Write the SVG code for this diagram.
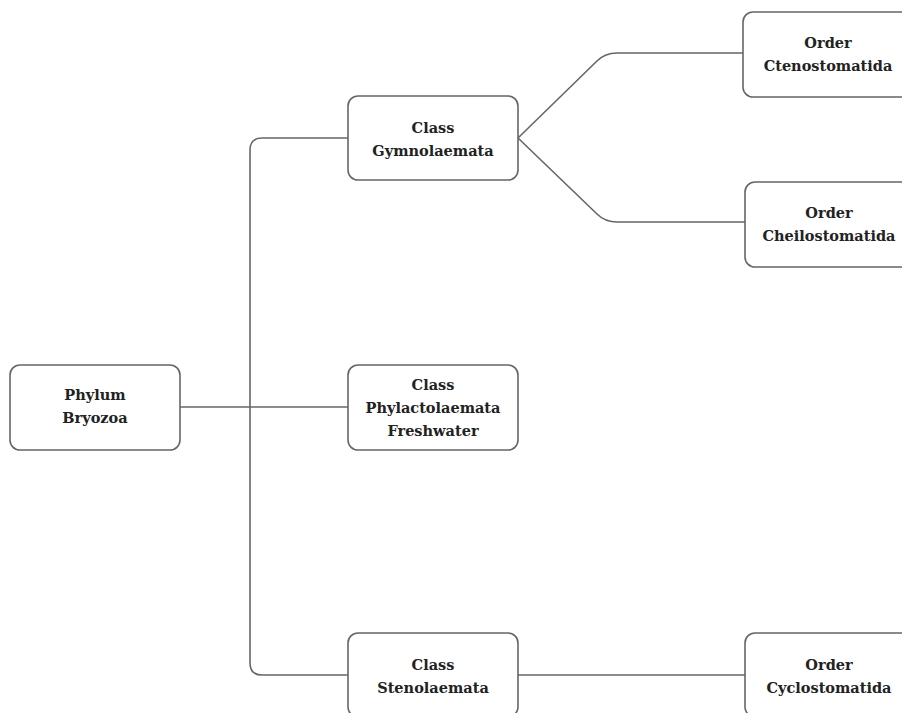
<svg xmlns="http://www.w3.org/2000/svg" width="902" height="713" viewBox="0 0 902 713">
<style>
.box{fill:#fff;stroke:#666;stroke-width:1.6}
.t{font-family:"DejaVu Serif","Liberation Serif",serif;font-weight:bold;font-size:14.5px;fill:#222;text-anchor:middle}
.c{fill:none;stroke:#666;stroke-width:1.6}
</style>
<rect width="902" height="713" fill="#fff"/>
<g id="connectors">
<path class="c" d="M180,407 H348"/>
<path class="c" d="M348,138 H262 Q250,138 250,150 V663 Q250,675 262,675 H348"/>
<path class="c" d="M518,138 L597,61 Q605,53 617,53 H743"/>
<path class="c" d="M518,138 L597,214 Q605,222 617,222 H745"/>
<path class="c" d="M518,675 H745"/>
</g>
<g id="phylum">
<rect class="box" x="10" y="365" width="170" height="85" rx="10"/>
<text class="t" x="95" y="400">Phylum</text>
<text class="t" x="95" y="423">Bryozoa</text>
</g>
<g id="gymnolaemata">
<rect class="box" x="348" y="96" width="170" height="84" rx="10"/>
<text class="t" x="433" y="133">Class</text>
<text class="t" x="433" y="156">Gymnolaemata</text>
</g>
<g id="phylactolaemata">
<rect class="box" x="348" y="365" width="170" height="85" rx="10"/>
<text class="t" x="433" y="390">Class</text>
<text class="t" x="433" y="413">Phylactolaemata</text>
<text class="t" x="433" y="436">Freshwater</text>
</g>
<g id="stenolaemata">
<rect class="box" x="348" y="633" width="170" height="84" rx="10"/>
<text class="t" x="433" y="670">Class</text>
<text class="t" x="433" y="693">Stenolaemata</text>
</g>
<g id="ctenostomatida">
<rect class="box" x="743" y="12" width="170" height="85" rx="10"/>
<text class="t" x="828" y="48">Order</text>
<text class="t" x="828" y="71">Ctenostomatida</text>
</g>
<g id="cheilostomatida">
<rect class="box" x="745" y="182" width="170" height="85" rx="10"/>
<text class="t" x="829" y="218">Order</text>
<text class="t" x="829" y="241">Cheilostomatida</text>
</g>
<g id="cyclostomatida">
<rect class="box" x="745" y="633" width="170" height="84" rx="10"/>
<text class="t" x="829" y="670">Order</text>
<text class="t" x="829" y="693">Cyclostomatida</text>
</g>
</svg>
